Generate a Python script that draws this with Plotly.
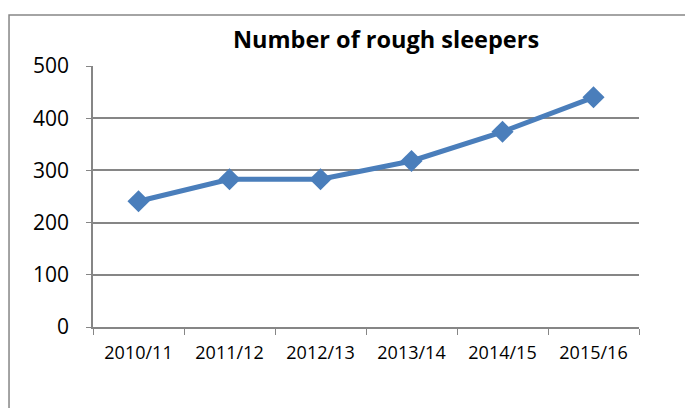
import plotly.graph_objects as go

years = ["2010/11", "2011/12", "2012/13", "2013/14", "2014/15", "2015/16"]
sleepers = [241, 283, 283, 318, 374, 440]
y_ticks = [0, 100, 200, 300, 400, 500]

fig = go.Figure()
fig.add_trace(go.Scatter(
    x=years, y=sleepers, mode="lines+markers",
    line=dict(color="#4A7EBB", width=5),
    marker=dict(symbol="diamond", size=17, color="#4A7EBB"),
    showlegend=False, cliponaxis=False,
))

fig.update_layout(
    width=693, height=408,
    margin=dict(l=85, r=62, t=58, b=89),
    paper_bgcolor="white", plot_bgcolor="white",
    font=dict(family="Open Sans, sans-serif", color="black"),
    title=dict(text="<b>Number of rough sleepers</b>", x=0.5455, xanchor="center",
               y=0.9216, yanchor="middle", font=dict(size=23.5)),
    xaxis=dict(type="category", tickson="boundaries", ticks="outside", ticklen=6,
               tickcolor="#868686", showline=True, linecolor="#868686", linewidth=1.5,
               showgrid=False, tickfont=dict(size=18), ticklabelstandoff=9,
               range=[-0.5, 5.5]),
    yaxis=dict(range=[0, 500], tickvals=y_ticks, ticks="outside", ticklen=5,
               tickcolor="#868686", showline=True, linecolor="#868686", linewidth=1.5,
               showgrid=True, gridcolor="#868686", gridwidth=1.5, zeroline=False,
               tickfont=dict(size=21), ticklabelstandoff=13),
    shapes=[dict(type="rect", xref="paper", yref="paper",
                 x0=-0.1538, x1=1.3, y0=-0.5, y1=1.195,
                 line=dict(color="#868686", width=1.5), layer="below")],
)

fig.write_html("out.html")
